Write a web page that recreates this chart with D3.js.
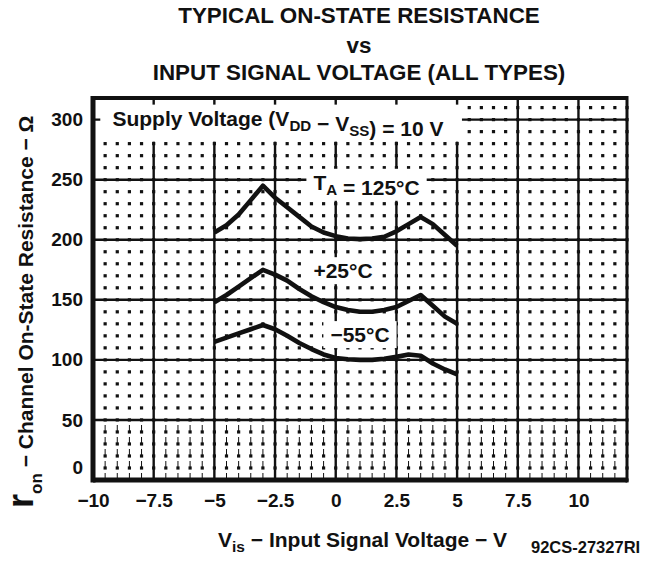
<!DOCTYPE html>
<html>
<head>
<meta charset="utf-8">
<script src="https://cdn.jsdelivr.net/npm/d3@7"></script>
<style>
	body { margin: 0; background: #fff; }
	svg { display: block; font-family: 'Liberation Sans', Arial, Helvetica, sans-serif; font-weight: bold; }
</style>
</head>
<body>
<svg width="646" height="564"></svg>
<script>
// values
const vis = [-5, -4.5, -4, -3.5, -3, -2.5, -2, -1.5, -1, -0.5, 0, 0.5, 1, 1.5, 2, 2.5, 3, 3.5, 4, 4.5, 5];
const r125 = [206, 212, 221, 233, 245, 235, 227, 219, 211, 206, 203, 201, 200.5, 201, 202.5, 207, 213, 219, 213, 204, 195];
const r25 = [148, 154, 161, 168, 175, 171, 166, 159, 153, 148, 144, 141.5, 140, 140, 141.5, 144, 149, 154, 145, 136, 130];
const rm55 = [115, 118.5, 122, 125.5, 129, 125.5, 120, 114, 109, 104.5, 101.5, 100.5, 100, 100, 101, 102.5, 104.5, 103.5, 97, 92, 88];

const xTicks = [-10, -7.5, -5, -2.5, 0, 2.5, 5, 7.5, 10];
const yTicks = [0, 50, 100, 150, 200, 250, 300];
const xDomain = [-10, 12];
const yDomain = [0, 318];

const ink = '#111';
const minus = (v) => String(v).replace('-', '\u2212');

const svg = d3.select('svg');
const margin = { left: 93, right: 19, top: 98, bottom: 84 };
const width = 646 - margin.left - margin.right;
const height = 564 - margin.top - margin.bottom;

const x = d3.scaleLinear().domain(xDomain).range([0, width]);
const y = d3.scaleLinear().domain(yDomain).range([height, 0]);

const g = svg.append('g')
	.attr('transform', `translate(${margin.left},${margin.top})`);

// minor grid: dots on every 0.5 V / 10 ohm
const minorX = d3.range(-10, 12.01, 0.5);
const minorY = d3.range(0, 311, 10);
const dots = [];
minorX.forEach((vx) => minorY.forEach((vy) => dots.push([vx, vy])));
g.append('g')
	.selectAll('rect')
	.data(dots)
	.enter()
		.append('rect')
		.attr('x', d => x(d[0]) - 1.6)
		.attr('y', d => y(d[1]) - 1.6)
		.attr('width', 3.2)
		.attr('height', 3.2)
		.attr('fill', ink);

// broken vertical hairlines in the lowest band
g.append('g')
	.selectAll('line')
	.data(minorX.filter(v => v % 2.5 !== 0))
	.enter()
		.append('line')
		.attr('x1', d => x(d))
		.attr('x2', d => x(d))
		.attr('y1', y(0))
		.attr('y2', y(46))
		.attr('stroke', ink)
		.attr('stroke-width', 1)
		.attr('stroke-dasharray', '7,5');

// major grid
g.append('g')
	.selectAll('line')
	.data(xTicks)
	.enter()
		.append('line')
		.attr('x1', d => x(d))
		.attr('x2', d => x(d))
		.attr('y1', 0)
		.attr('y2', height)
		.attr('stroke', ink)
		.attr('stroke-width', 2.4);

g.append('g')
	.selectAll('line')
	.data(yTicks)
	.enter()
		.append('line')
		.attr('x1', 0)
		.attr('x2', width)
		.attr('y1', d => y(d))
		.attr('y2', d => y(d))
		.attr('stroke', ink)
		.attr('stroke-width', 2.4);

// frame
g.append('line').attr('x1', 0).attr('x2', width).attr('y1', 0).attr('y2', 0)
	.attr('stroke', ink).attr('stroke-width', 4);
g.append('line').attr('x1', 0).attr('x2', width).attr('y1', height).attr('y2', height)
	.attr('stroke', ink).attr('stroke-width', 5);
g.append('line').attr('x1', 0).attr('x2', 0).attr('y1', -2).attr('y2', height + 2.5)
	.attr('stroke', ink).attr('stroke-width', 5);
g.append('line').attr('x1', width).attr('x2', width).attr('y1', -2).attr('y2', height + 2.5)
	.attr('stroke', ink).attr('stroke-width', 3);

// curves
const line = d3.line()
	.x((d, i) => x(vis[i]))
	.y(d => y(d));

[r125, r25, rm55].forEach((series) => {
	g.append('path')
		.datum(series)
		.attr('d', line)
		.attr('fill', 'none')
		.attr('stroke', ink)
		.attr('stroke-width', 4.6)
		.attr('stroke-linejoin', 'round')
		.attr('stroke-linecap', 'butt');
});

// labels inside the plot, on white boxes
const label = (vx, vy, parts, size) => {
	const grp = g.append('g');
	const box = grp.append('rect').attr('fill', '#fff');
	const t = grp.append('text')
		.attr('x', x(vx))
		.attr('y', y(vy))
		.attr('font-size', size)
		.attr('fill', ink);
	parts.forEach((p) => {
		if (p.sub) {
			t.append('tspan').attr('font-size', size * 0.72).attr('dy', 5).text(p.sub);
			t.append('tspan').attr('dy', -5).text('');
		} else {
			t.append('tspan').text(p.t);
		}
	});
	const bb = t.node().getBBox();
	box.attr('x', bb.x - 7).attr('y', bb.y - 2)
		.attr('width', bb.width + 14).attr('height', bb.height + 4);
	return grp;
};

const sup = label(-9.2, 295, [
	{ t: 'Supply Voltage (V' }, { sub: 'DD' }, { t: ' \u2212 V' }, { sub: 'SS' }, { t: ') = 10 V' },
], 21);
sup.select('rect').attr('x', x(-9.7)).attr('width', x(5.2) - x(-9.7));

label(-0.92, 241.6, [{ t: 'T' }, { sub: 'A' }, { t: ' = 125\u00b0C' }], 21);
label(-0.92, 168, [{ t: '+25\u00b0C' }], 21);
label(-0.22, 114.8, [{ t: '\u221255\u00b0C' }], 21);

// axes (labels only)
const xAxis = g.append('g')
	.attr('transform', `translate(0,${height})`)
	.call(d3.axisBottom(x).tickValues(xTicks).tickSize(0).tickPadding(14).tickFormat(minus));
const yAxis = g.append('g')
	.call(d3.axisLeft(y).tickValues(yTicks).tickSize(0).tickPadding(10).tickFormat(minus));
[xAxis, yAxis].forEach((a) => {
	a.select('.domain').remove();
	a.selectAll('text')
		.attr('font-family', null)
		.attr('font-size', 19)
		.attr('fill', ink);
});
yAxis.selectAll('.tick')
	.filter(d => d === 0)
	.select('text')
	.attr('dy', '-0.35em');

// titles
const title = svg.append('text')
	.attr('text-anchor', 'middle')
	.attr('font-size', 22.4)
	.attr('fill', ink);
[['TYPICAL ON-STATE RESISTANCE', 23], ['vs', 53], ['INPUT SIGNAL VOLTAGE (ALL TYPES)', 80]]
	.forEach(([s, yy]) => {
		title.append('tspan').attr('x', 359).attr('y', yy).text(s);
	});

const xTitle = svg.append('text')
	.attr('x', 218)
	.attr('y', 547)
	.attr('font-size', 21)
	.attr('fill', ink);
xTitle.append('tspan').text('V');
xTitle.append('tspan').attr('font-size', 15.5).attr('dy', 5).text('is');
xTitle.append('tspan').attr('dy', -5).text(' \u2212 Input Signal Voltage \u2212 V');

svg.append('text')
	.attr('x', 531)
	.attr('y', 553)
	.attr('font-size', 16.5)
	.attr('fill', ink)
	.text('92CS-27327RI');

const yTitle = svg.append('text')
	.attr('transform', 'translate(33,508) rotate(-90)')
	.attr('font-size', 21)
	.attr('fill', ink);
yTitle.append('tspan').attr('font-size', 36).text('r');
yTitle.append('tspan').attr('font-size', 17).attr('dy', 9).text('on');
yTitle.append('tspan').attr('dy', -9).text(' \u2212 Channel On-State Resistance \u2212 \u03a9');
</script>
</body>
</html>
